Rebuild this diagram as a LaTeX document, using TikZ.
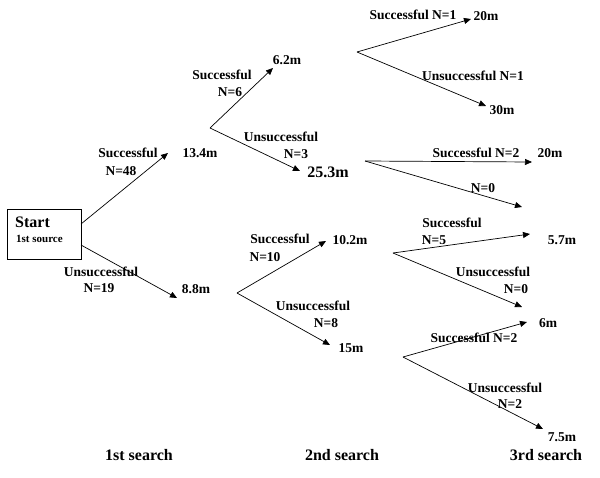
\documentclass[tikz,border=0pt]{standalone}
\usepackage{fontspec}
\setmainfont{Liberation Serif}
\usetikzlibrary{arrows.meta,positioning}
\tikzset{
    every edge/.style={draw,-{Triangle[length=7pt,width=6pt]},line width=0.7pt},
    branch/.style={draw,line width=0.7pt},
    lbl/.style={inner sep=0pt,font=\fontsize{13.5}{15}\selectfont\bfseries},
    val/.style={lbl},
    bigval/.style={inner sep=0pt,font=\fontsize{16}{18}\selectfont\bfseries},
    srcbox/.style={draw,line width=0.7pt,minimum width=74pt,minimum height=50pt,inner sep=0pt},
}
\begin{document}
\begin{tikzpicture}[x=1pt,y=-1pt]
    \useasboundingbox (0,0) rectangle (600,477);

    % start box
    \node[srcbox] (start) at (44,234) {};
    \node[bigval,anchor=west] (starttxt) at (15,222) {Start};
    \node[inner sep=0pt,anchor=west,font=\fontsize{11}{13}\selectfont\bfseries] (srctxt) at (16,239) {1st source};

    % branch points and arrow tips
    \coordinate (s1) at (81,224);
    \coordinate (s2) at (81,245);
    \coordinate (t134) at (168,153);
    \coordinate (t88) at (177,298);
    \coordinate (b1) at (210,128);
    \coordinate (b2) at (237,293);
    \coordinate (t62) at (273,68);
    \coordinate (t253) at (300,171);
    \coordinate (t102) at (326,241);
    \coordinate (t15) at (330,345);
    \coordinate (c1) at (357,52);
    \coordinate (c2) at (365,161);
    \coordinate (c3) at (393,253);
    \coordinate (c4) at (403,357);
    \coordinate (ta) at (471,19);
    \coordinate (tb) at (486,106);
    \coordinate (tc) at (532,162);
    \coordinate (td) at (522,207);
    \coordinate (te) at (530,234);
    \coordinate (tf) at (522,307);
    \coordinate (tg) at (527,322);
    \coordinate (th) at (543,429);

    \path
    (s1) edge (t134)
    (s2) edge (t88)
    (b1) edge (t62)
    (b1) edge (t253)
    (b2) edge (t102)
    (b2) edge (t15)
    (c1) edge (ta)
    (c1) edge (tb)
    (c2) edge (tc)
    (c2) edge (td)
    (c3) edge (te)
    (c3) edge (tf)
    (c4) edge (tg)
    (c4) edge (th);

    % values
    \node[val] (v134) at (200,153) {13.4m};
    \node[val] (v88) at (196,289) {8.8m};
    \node[val] (v62) at (287,60) {6.2m};
    \node[bigval] (v253) at (328,172) {25.3m};
    \node[val] (v102) at (350,240) {10.2m};
    \node[val] (v15) at (351,348) {15m};
    \node[val] (va) at (486,16) {20m};
    \node[val] (vb) at (502,110) {30m};
    \node[val] (vc) at (550,153) {20m};
    \node[val] (ve) at (562,240) {5.7m};
    \node[val] (vg) at (548,323) {6m};
    \node[val] (vh) at (562,437) {7.5m};

    % labels
    \node[lbl] (l48) at (128,153) {Successful};
    \node[lbl] (n48) at (121,171) {N=48};
    \node[lbl] (l19) at (101,272) {Unsuccessful};
    \node[lbl] (n19) at (99,288) {N=19};
    \node[lbl] (l6) at (222,75) {Successful};
    \node[lbl] (n6) at (230,92) {N=6};
    \node[lbl] (l3) at (281,137) {Unsuccessful};
    \node[lbl] (n3) at (296,154) {N=3};
    \node[lbl] (l10) at (280,239) {Successful};
    \node[lbl] (n10) at (265,257) {N=10};
    \node[lbl] (l8) at (313,306) {Unsuccessful};
    \node[lbl] (n8) at (326,323) {N=8};
    \node[lbl] (la) at (413,15) {Successful N=1};
    \node[lbl] (lb) at (473,76) {Unsuccessful N=1};
    \node[lbl] (lc) at (476,153) {Successful N=2};
    \node[lbl] (ld) at (483,188) {N=0};
    \node[lbl] (le) at (452,223) {Successful};
    \node[lbl] (ne) at (434,240) {N=5};
    \node[lbl] (lf) at (493,272) {Unsuccessful};
    \node[lbl] (nf) at (516,289) {N=0};
    \node[lbl] (lg) at (474,338) {Successful N=2};
    \node[lbl] (lh) at (505,388) {Unsuccessful};
    \node[lbl] (nh) at (510,404) {N=2};

    % search columns
    \node[bigval] (srch1) at (139,455) {1st search};
    \node[bigval] (srch2) at (342,455) {2nd search};
    \node[bigval] (srch3) at (546,455) {3rd search};
\end{tikzpicture}
\end{document}
